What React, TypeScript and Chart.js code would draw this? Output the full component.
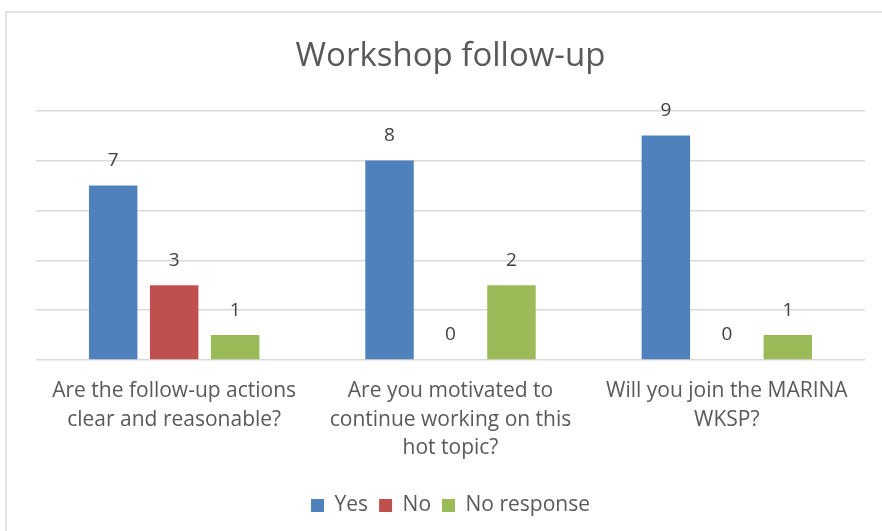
import React, { useEffect, useRef } from "react";
import { Chart, registerables } from "chart.js";

Chart.register(...registerables);

const chartTitle = "Workshop follow-up";
const categories: string[][] = [
  ["Are the follow-up actions", "clear and reasonable?"],
  ["Are you motivated to", "continue working on this", "hot topic?"],
  ["Will you join the MARINA", "WKSP?"],
];
const seriesNames = ["Yes", "No", "No response"];
const yesValues = [7, 8, 9];
const noValues = [3, 0, 0];
const noResponseValues = [1, 3, 1];
const yesLabels = ["7", "8", "9"];
const noLabels = ["3", "0", "0"];
const noResponseLabels = ["1", "2", "1"];
const seriesColors = ["#4F81BD", "#C0504D", "#9BBB59"];
const yMax = 10;
const yStep = 2;

const FONT = "'Open Sans', 'Noto Sans', sans-serif";

const valueLabelPlugin = {
  id: "valueLabels",
  afterDatasetsDraw(chart: any) {
    const ctx = chart.ctx;
    const labelSets = [yesLabels, noLabels, noResponseLabels];
    ctx.save();
    ctx.font = `19px ${FONT}`;
    ctx.fillStyle = "#404040";
    ctx.textAlign = "center";
    ctx.textBaseline = "middle";
    chart.data.datasets.forEach((_ds: any, i: number) => {
      const meta = chart.getDatasetMeta(i);
      meta.data.forEach((el: any, j: number) => {
        ctx.fillText(labelSets[i][j], el.x, el.y - 25);
      });
    });
    ctx.restore();
  },
};

const borderPlugin = {
  id: "outerBorder",
  beforeDraw(chart: any) {
    const ctx = chart.ctx;
    ctx.save();
    ctx.fillStyle = "#ffffff";
    ctx.fillRect(0, 0, chart.width, chart.height);
    ctx.strokeStyle = "#d9d9d9";
    ctx.lineWidth = 1.5;
    ctx.strokeRect(6, 12, chart.width + 20, chart.height + 20);
    ctx.restore();
  },
};

export default function App() {
  const canvasRef = useRef<HTMLCanvasElement | null>(null);

  useEffect(() => {
    if (!canvasRef.current) return;
    const chart = new Chart(canvasRef.current, {
      type: "bar",
      data: {
        labels: categories,
        datasets: [
          { label: seriesNames[0], data: yesValues, backgroundColor: seriesColors[0] },
          { label: seriesNames[1], data: noValues, backgroundColor: seriesColors[1] },
          { label: seriesNames[2], data: noResponseValues, backgroundColor: seriesColors[2] },
        ].map((d) => ({ ...d, categoryPercentage: 0.662, barPercentage: 0.795 })),
      },
      options: {
        animation: false,
        responsive: true,
        maintainAspectRatio: false,
        layout: { padding: { left: 36, right: 17, top: 0, bottom: 5 } },
        plugins: {
          tooltip: { enabled: false },
          title: {
            display: true,
            text: chartTitle,
            color: "#595959",
            font: { family: FONT, size: 33, weight: "normal", lineHeight: 1.2 },
            padding: { top: 37, bottom: 34 },
          },
          legend: {
            position: "bottom",
            labels: {
              color: "#595959",
              font: { family: FONT, size: 21 },
              boxWidth: 13,
              boxHeight: 13,
              padding: 11,
            },
          },
        },
        scales: {
          x: {
            grid: { display: false },
            border: { display: false },
            ticks: {
              color: "#595959",
              font: { family: FONT, size: 21, lineHeight: 1.38 },
              maxRotation: 0,
              autoSkip: false,
              padding: 8,
            },
            afterFit: (scale: any) => {
              scale.height += 13;
            },
          },
          y: {
            min: 0,
            max: yMax,
            ticks: { display: false, stepSize: yStep },
            grid: { color: "#d9d9d9", lineWidth: 1.5, drawTicks: false },
            border: { display: false },
          },
        },
      },
      plugins: [borderPlugin, valueLabelPlugin],
    });
    return () => chart.destroy();
  }, []);

  return (
    <div style={{ position: "absolute", left: 0, top: 0, width: 882, height: 531 }}>
      <canvas ref={canvasRef} />
    </div>
  );
}
